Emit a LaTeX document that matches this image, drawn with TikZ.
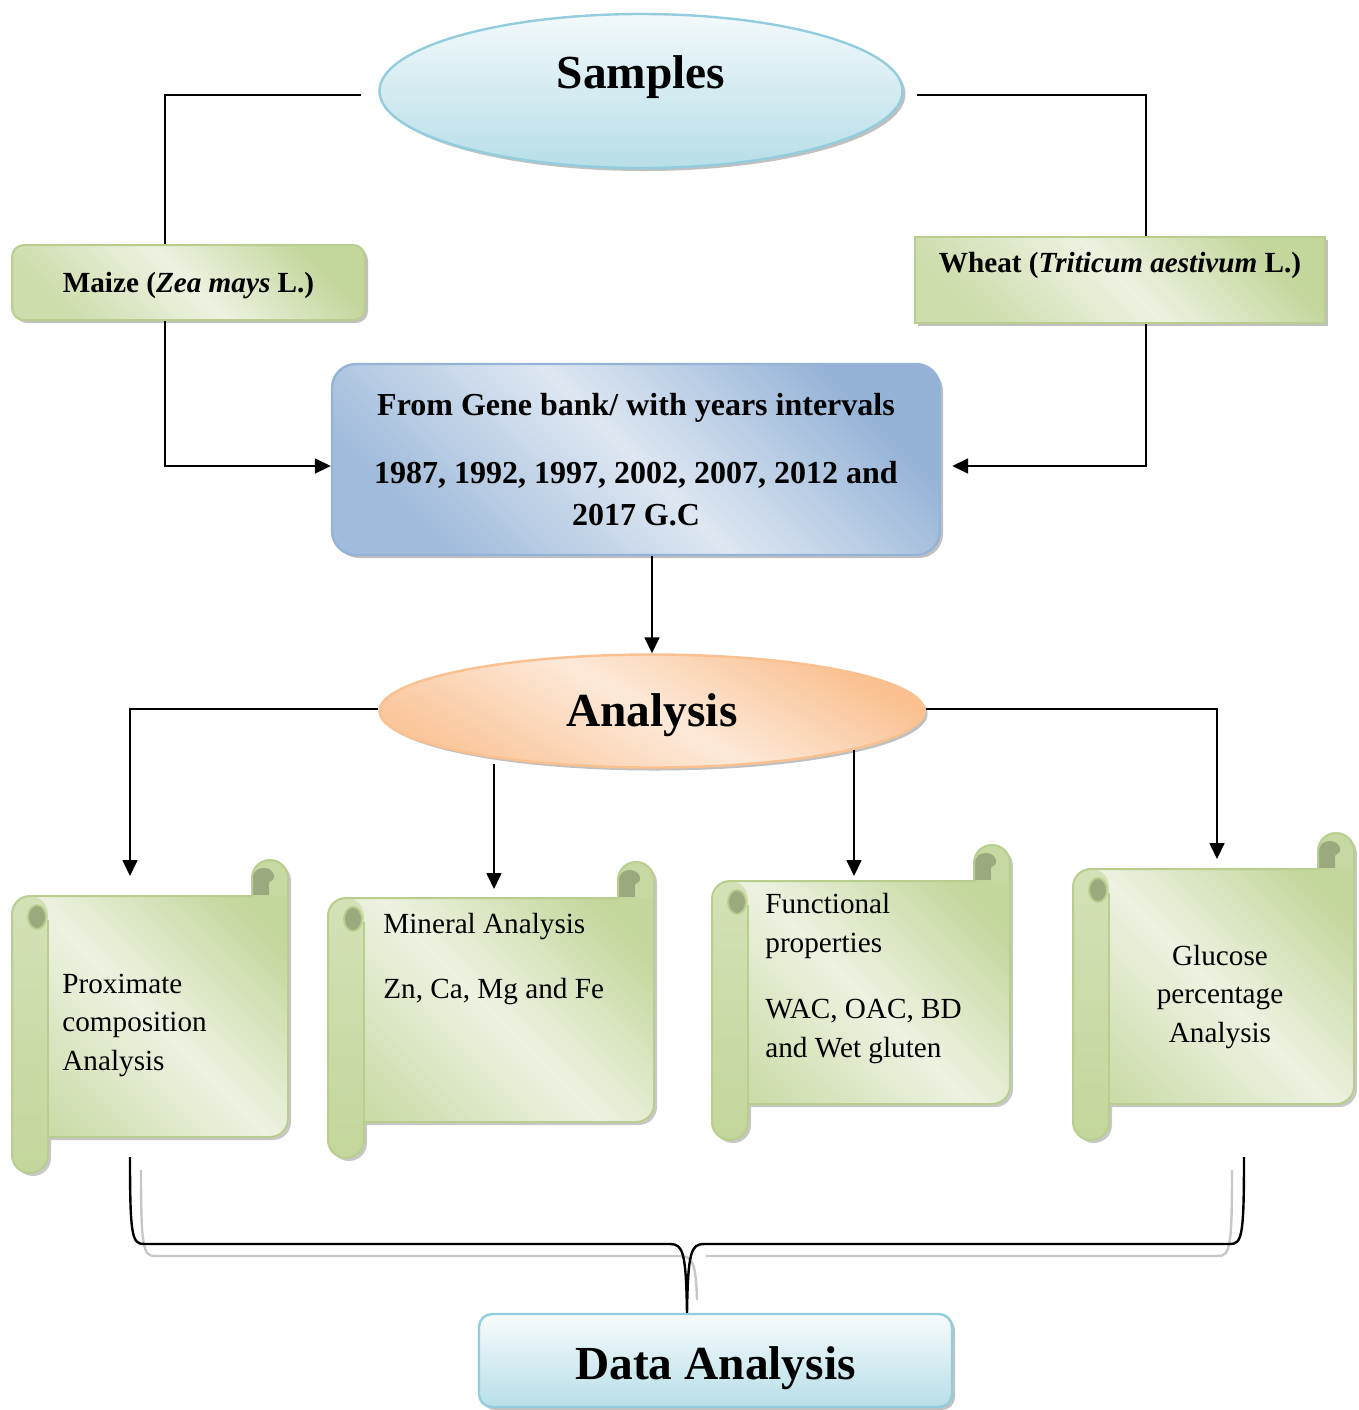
\documentclass[tikz,border=0pt]{standalone}
\usepackage{fontspec}
\setmainfont{Liberation Serif}
\usetikzlibrary{arrows.meta,shapes.geometric,shadows,calc}
\definecolor{sgdark}{HTML}{C3D69B}
\definecolor{sglight}{HTML}{EDF2E1}
\definecolor{sgborder}{HTML}{B9CE8E}
\definecolor{sghole}{HTML}{9AAA7E}
\definecolor{bdark}{HTML}{95B3D7}
\definecolor{blight}{HTML}{DEE7F2}
\definecolor{cyanb}{HTML}{93CDDD}
\definecolor{cyanf}{HTML}{B7DEE8}
\definecolor{cyantop}{HTML}{F2F9FB}
\definecolor{peach}{HTML}{FAC090}
\definecolor{peachl}{HTML}{FDE9D9}
\newcommand\scrollpath[4]{(#1+36,#4-36) -- (#1+36,#4-18) .. controls (#1+36,#4-8) and (#1+28,#4) .. (#1+18,#4) .. controls (#1+8,#4) and (#1,#4-8) .. (#1,#4-18) -- (#1,#2+54) .. controls (#1,#2+44) and (#1+8,#2+36) .. (#1+18,#2+36) -- (#3-36,#2+36) -- (#3-36,#2+18) .. controls (#3-36,#2+8) and (#3-28,#2) .. (#3-18,#2) .. controls (#3-8,#2) and (#3,#2+8) .. (#3,#2+18) -- (#3,#4-54) .. controls (#3,#4-44) and (#3-8,#4-36) .. (#3-18,#4-36) -- cycle}
\newcommand\rollpath[4]{(#1,#2+54) .. controls (#1,#2+44) and (#1+8,#2+36) .. (#1+18,#2+36) .. controls (#1+28,#2+36) and (#1+36,#2+44) .. (#1+36,#2+54) -- (#1+36,#4-18) .. controls (#1+36,#4-8) and (#1+28,#4) .. (#1+18,#4) .. controls (#1+8,#4) and (#1,#4-8) .. (#1,#4-18) -- cycle}
\newcommand\drawscroll[4]{%
  \fill[black!40,opacity=.55,shift={(3,3)}] \scrollpath{#1}{#2}{#3}{#4};
  \path[top color=sgdark,bottom color=sgdark!80!sglight,middle color=sglight,shading angle=-45] \scrollpath{#1}{#2}{#3}{#4};
  \path[top color=sglight!40!sgdark,bottom color=sgdark] \rollpath{#1}{#2}{#3}{#4};
  \fill[sgdark!90!sglight] (#3-36,#2+36) -- (#3-36,#2+18) .. controls (#3-36,#2+8) and (#3-28,#2) .. (#3-18,#2) .. controls (#3-8,#2) and (#3,#2+8) .. (#3,#2+18) -- (#3,#2+36) -- cycle;
  \fill[sghole] (#3-35,#2+35) -- (#3-35,#2+18) .. controls (#3-35,#2+11) and (#3-30,#2+8) .. (#3-24,#2+8) .. controls (#3-14,#2+8) and (#3-11,#2+19) .. (#3-17,#2+21) .. controls (#3-20,#2+22) and (#3-19,#2+26) .. (#3-19,#2+28) -- (#3-19,#2+35) -- cycle;
  \draw[sgborder,line width=1pt] \scrollpath{#1}{#2}{#3}{#4};
  \draw[sgborder,line width=1pt] (#1+36,#2+60) -- (#1+36,#4-36);
  \filldraw[fill=sghole,draw=sgborder,line width=0.9pt] (#1+25,#2+57) ellipse [x radius=9, y radius=12];
}
\begin{document}
\begin{tikzpicture}[x=0.5pt,y=-0.5pt,
  conn/.style={line width=0.85pt,black},
  arr/.style={conn,-{Triangle[length=8pt,width=7.5pt]}},
  shad/.style={drop shadow={shadow xshift=1.5pt,shadow yshift=-1.5pt,fill=black!55,opacity=.45}},
  bigtxt/.style={font=\fontsize{23.7}{28}\selectfont\bfseries},
  boxtxt/.style={font=\fontsize{14.6}{18}\selectfont\bfseries},
  scrolltxt/.style={font=\fontsize{14.6}{19.25}\selectfont,inner sep=0pt},
  greenbox/.style={shad,draw=sgborder,line width=1pt,top color=sgdark,bottom color=sgdark!75!sglight,middle color=sglight,shading angle=-45}]
\useasboundingbox (0,0) rectangle (1359,1410);

% ---- top part
\node[ellipse,shad,draw=cyanb,line width=1.2pt,top color=cyantop,bottom color=cyanf,
  minimum width=261.5pt,minimum height=77pt,bigtxt,text height=10pt,text depth=12.5pt] (samples) at (641,91) {Samples};

\node[greenbox,rounded corners=6pt,minimum width=176.5pt,minimum height=37.5pt,boxtxt,
  text height=10pt,text depth=0.4pt] (maize) at (188.5,282.5) {Maize (\textit{Zea mays} L.)};

\node[greenbox,rectangle,minimum width=205pt,minimum height=43pt,boxtxt,
  text height=10pt,text depth=18pt] (wheat) at (1120,280) {Wheat (\textit{Triticum aestivum} L.)};

\node[shad,draw=bdark,line width=1.2pt,rounded corners=12pt,top color=bdark,
  bottom color=bdark!85!blight,middle color=blight,shading angle=-45,minimum width=304pt,minimum height=95.5pt,
  align=center,font=\fontsize{16}{21}\selectfont\bfseries] (gene) at (636,459.5)
  {From Gene bank/ with years intervals\\[13pt]1987, 1992, 1997, 2002, 2007, 2012 and\\2017 G.C};

\node[ellipse,shad,draw=peach,line width=1.2pt,top color=peach,
  bottom color=peach!85!peachl,middle color=peachl,shading angle=-30,minimum width=272.5pt,minimum height=56.5pt,
  bigtxt,text height=19pt,text depth=4pt] (analysis) at (652,711) {Analysis};

\draw[conn,shorten <=8.5pt] ([yshift=-2pt]samples.west) -| ([xshift=-11.75pt]maize.north);
\draw[arr] ([xshift=-11.75pt]maize.south) |- ([yshift=-3.25pt]gene.west);
\draw[conn,shorten <=6.5pt] ([yshift=-2pt]samples.east) -| ([xshift=13pt]wheat.north);
\draw[arr,shorten >=5.5pt] ([xshift=13pt]wheat.south) |- ([yshift=-3.25pt]gene.east);
\draw[arr] (gene.south -| analysis.north) -- (analysis.north);

% ---- scrolls
\drawscroll{12}{860}{288}{1173}
\drawscroll{328}{862}{654}{1158}
\drawscroll{712}{845}{1010}{1140}
\drawscroll{1073}{833}{1354}{1140}

\node[scrolltxt,align=left,anchor=base west] (s1) at (62,1070) {Proximate\\composition\\Analysis};
\node[scrolltxt,align=left,anchor=base west] (s2) at (383,998) {Mineral Analysis\\[13.25pt]Zn, Ca, Mg and Fe};
\node[scrolltxt,align=left,anchor=base west,font=\fontsize{14.6}{19.5}\selectfont] (s3) at (765,1057) {Functional\\properties\\[13.5pt]WAC, OAC, BD\\and Wet gluten};
\node[scrolltxt,align=center,anchor=base] (s4) at (1220,1042) {Glucose\\percentage\\Analysis};

\coordinate (t1) at (130,876);
\coordinate (t2) at (494,889);
\coordinate (t3) at (854,876);
\coordinate (t4) at (1217,859);
\draw[arr] ([yshift=1pt]analysis.west) -| (t1);
\draw[arr] ([yshift=2.5pt]analysis.south -| t2) -- (t2);
\draw[arr] ([yshift=9.5pt]analysis.south -| t3) -- (t3);
\draw[arr] ([yshift=1pt]analysis.east) -| (t4);

% ---- data analysis
\node[shad,draw=cyanb,line width=1.2pt,rounded corners=6.5pt,top color=cyantop!60!white,bottom color=cyanf,
  minimum width=236.5pt,minimum height=46.5pt,font=\fontsize{23.7}{28}\selectfont\bfseries,
  text height=19pt,text depth=0.5pt] (data) at (715.5,1360.5) {Data Analysis};

\coordinate (bl) at (130,1157);
\coordinate (br) at (1244,1157);
\coordinate (tip) at ([xshift=-14.25pt]data.north);
\draw[line width=1.2pt,black!22] (141,1170) .. controls (141,1248) and (143,1256) .. (155,1256) -- (680,1256) .. controls (692,1256) and (696,1262) .. (697,1300);
\draw[line width=1.2pt,black!22] (1232,1170) .. controls (1232,1248) and (1230,1256) .. (1218,1256) -- (706,1256);
\draw[line width=1.2pt] (bl) .. controls (130,1236) and (132,1244) .. (144,1244) -- (670,1244) .. controls (683,1244) and (686,1252) .. (tip) .. controls (688,1252) and (691,1244) .. (704,1244) -- (1230,1244) .. controls (1242,1244) and (1244,1236) .. (br);
\end{tikzpicture}
\end{document}
